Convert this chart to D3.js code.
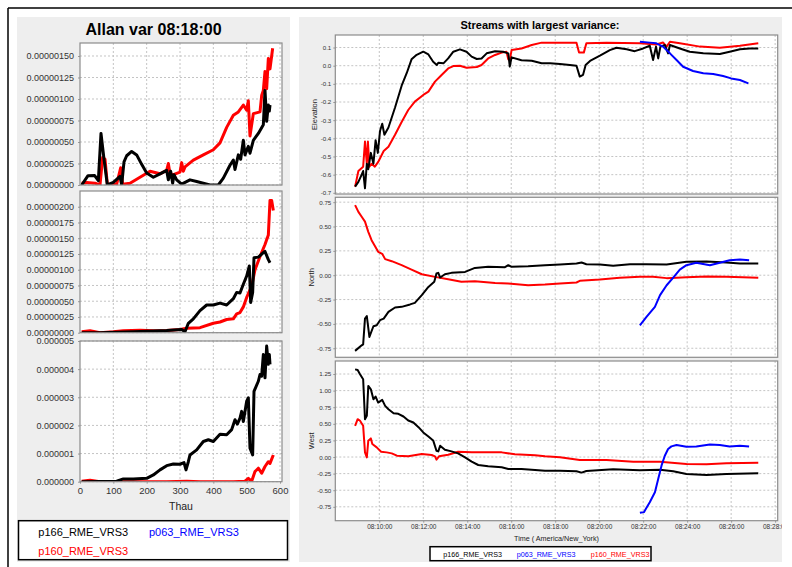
<!DOCTYPE html>
<html>
<head>
<meta charset="utf-8">
<script src="https://cdn.jsdelivr.net/npm/d3@7"></script>
<style>
  body { margin: 0; background: #fff; }
  text { font-family: "Liberation Sans", Arial, sans-serif; }
</style>
</head>
<body>
<svg id="chart" width="792" height="567"></svg>
<script>
// ---- data ----
var seriesNames = ["p166_RME_VRS3", "p063_RME_VRS3", "p160_RME_VRS3"];
var seriesColors = ["#000000", "#0000ff", "#ff0000"];

// Allan variance, values in units of 1e-6, x = Thau
var allanElevBlack = [[5,0],[24,0.108],[44,0.11],[55,0.05],[63,0.60],[72,0.30],[82,0],[100,0.03],[120,0.10],[125,0],[132,0.27],[140,0.34],[155,0.39],[170,0.35],[185,0.24],[200,0.14],[220,0.09],[240,0.13],[260,0.17],[265,0.06],[272,0.16],[278,0.02],[282,0.12],[290,0.06],[305,0.01],[330,0.06],[350,0.04],[370,0.02],[390,0],[415,0],[430,0.08],[450,0.23],[460,0.29],[465,0.18],[475,0.35],[482,0.30],[490,0.52],[495,0.35],[505,0.45],[510,0.37],[520,0.52],[535,0.60],[550,0.70],[555,1.10],[560,0.74],[565,0.93],[568,0.86],[570,0.93]];
var allanElevRed = [[5,0.02],[20,0.03],[45,0.02],[60,0],[68,0.32],[75,0.30],[82,0.01],[110,0.01],[122,0.20],[128,0.01],[150,0.02],[180,0.09],[210,0.16],[240,0.13],[260,0.17],[265,0.25],[270,0.13],[280,0.12],[300,0.15],[305,0.26],[310,0.16],[315,0.21],[340,0.29],[370,0.35],[400,0.41],[420,0.49],[440,0.67],[460,0.81],[475,0.85],[490,0.93],[500,0.87],[505,0.98],[510,0.57],[520,0.83],[540,0.85],[545,1.04],[550,1.10],[555,1.32],[560,1.12],[565,1.47],[570,1.35],[578,1.59]];
var allanNorthBlack = [[5,0],[60,0],[160,0.015],[260,0.035],[305,0.05],[315,0.015],[325,0.15],[340,0.22],[360,0.35],[380,0.44],[400,0.44],[420,0.47],[440,0.44],[460,0.54],[470,0.64],[480,0.63],[490,0.77],[500,0.90],[508,1.06],[512,0.48],[518,0.64],[522,1.19],[535,1.20],[550,1.27],[555,1.29],[565,1.16],[570,1.11]];
var allanNorthRed = [[5,0.015],[30,0.03],[60,0],[100,0.015],[130,0.03],[180,0.04],[220,0.03],[260,0.035],[300,0.05],[320,0.07],[360,0.08],[400,0.15],[420,0.17],[440,0.21],[460,0.22],[470,0.30],[480,0.32],[490,0.41],[500,0.56],[515,0.74],[525,1.0],[540,1.21],[555,1.40],[565,1.55],[570,2.10],[575,2.10],[580,1.94]];
var allanWestBlack = [[5,0],[110,0.02],[130,0.1],[160,0.1],[200,0.12],[220,0.24],[240,0.42],[260,0.57],[280,0.63],[300,0.62],[312,0.68],[318,0.42],[325,0.71],[330,0.95],[350,1.13],[370,1.43],[385,1.49],[400,1.43],[420,1.69],[440,1.67],[455,1.85],[465,2.20],[472,2.05],[480,2.26],[485,2.5],[490,2.14],[500,2.86],[505,2.98],[510,1.19],[518,0.95],[522,3.21],[535,3.57],[540,3.81],[545,3.75],[550,4.52],[555,3.69],[560,4.82],[565,4.17],[568,4.52],[570,4.17]];
var allanWestRed = [[5,0.02],[30,0.05],[60,0],[260,0],[320,0.02],[360,0],[460,0],[495,0.02],[505,0.12],[515,0.02],[525,0.36],[535,0.48],[545,0.30],[555,0.54],[565,0.71],[570,0.65],[580,0.95]];

var allanTicks1 = [0, 0.25, 0.5, 0.75, 1.0, 1.25, 1.5];
var allanTicks2 = [0, 0.25, 0.5, 0.75, 1.0, 1.25, 1.5, 1.75, 2.0];
var allanTicks3 = [0, 1, 2, 3, 4, 5];
var thauTicks = [0, 100, 200, 300, 400, 500, 600];

// streams
var elevBlack = [["08:08:54",-0.666],["08:09:03",-0.64],["08:09:12",-0.60],["08:09:16",-0.58],["08:09:21",-0.675],["08:09:26",-0.54],["08:09:30",-0.57],["08:09:37",-0.48],["08:09:44",-0.54],["08:09:50",-0.41],["08:09:56",-0.48],["08:10:02",-0.36],["08:10:08",-0.32],["08:10:14",-0.38],["08:10:25",-0.34],["08:10:43",-0.23],["08:11:01",-0.11],["08:11:15",-0.04],["08:11:28",0.035],["08:11:42",0.06],["08:12:00",0.077],["08:12:14",0.062],["08:12:27",0.022],["08:12:37",0.004],["08:12:41",0.016],["08:12:55",0.013],["08:13:08",0.04],["08:13:22",0.077],["08:13:40",0.09],["08:13:58",0.077],["08:14:12",0.05],["08:14:26",0.037],["08:14:39",0.04],["08:14:53",0.068],["08:15:16",0.08],["08:15:38",0.077],["08:15:52",0.068],["08:15:56",-0.005],["08:16:01",0.046],["08:16:28",0.03],["08:16:56",0.027],["08:17:23",0.013],["08:17:46",0.013],["08:18:13",0.009],["08:18:40",0.004],["08:18:58",0.0],["08:19:07",-0.06],["08:19:16",-0.05],["08:19:23",0.004],["08:19:35",0.026],["08:20:02",0.055],["08:20:29",0.086],["08:20:47",0.099],["08:21:15",0.09],["08:21:37",0.08],["08:22:00",0.095],["08:22:18",0.11],["08:22:27",0.031],["08:22:35",0.105],["08:22:41",0.04],["08:22:47",0.105],["08:22:59",0.114],["08:23:08",0.068],["08:23:13",0.114],["08:23:40",0.095],["08:24:07",0.077],["08:24:44",0.068],["08:25:29",0.064],["08:25:56",0.077],["08:26:24",0.09],["08:26:51",0.095],["08:27:14",0.094]];
var elevRed = [["08:08:54",-0.666],["08:09:03",-0.58],["08:09:16",-0.556],["08:09:21",-0.418],["08:09:26",-0.54],["08:09:29",-0.418],["08:09:33",-0.556],["08:09:39",-0.54],["08:09:48",-0.556],["08:09:57",-0.53],["08:10:12",-0.47],["08:10:25",-0.446],["08:10:43",-0.38],["08:11:01",-0.31],["08:11:19",-0.244],["08:11:37",-0.198],["08:12:00",-0.161],["08:12:14",-0.143],["08:12:32",-0.088],["08:12:50",-0.051],["08:13:08",-0.015],["08:13:22",-0.002],["08:13:40",0.0],["08:13:58",-0.011],["08:14:26",-0.007],["08:14:39",0.004],["08:14:57",0.04],["08:15:16",0.059],["08:15:34",0.072],["08:15:47",0.077],["08:15:52",0.035],["08:15:56",0.031],["08:16:01",0.086],["08:16:28",0.095],["08:16:56",0.114],["08:17:23",0.127],["08:18:04",0.127],["08:18:58",0.127],["08:19:05",0.072],["08:19:18",0.072],["08:19:25",0.123],["08:20:20",0.127],["08:21:51",0.123],["08:22:36",0.117],["08:22:54",0.128],["08:23:04",0.105],["08:23:13",0.132],["08:23:40",0.123],["08:24:35",0.105],["08:25:29",0.099],["08:26:24",0.11],["08:27:14",0.123]];
var elevBlue = [["08:21:51",0.132],["08:22:18",0.127],["08:22:36",0.123],["08:22:54",0.105],["08:23:13",0.068],["08:23:31",0.031],["08:23:49",-0.006],["08:24:16",-0.029],["08:24:44",-0.042],["08:25:11",-0.046],["08:25:38",-0.057],["08:26:00",-0.07],["08:26:24",-0.079],["08:26:47",-0.097]];

var northBlack = [["08:08:54",-0.777],["08:09:12",-0.72],["08:09:16",-0.71],["08:09:21",-0.445],["08:09:26",-0.42],["08:09:33",-0.634],["08:09:44",-0.524],["08:09:53",-0.514],["08:10:02",-0.462],["08:10:12",-0.445],["08:10:25",-0.377],["08:10:43",-0.332],["08:11:01",-0.325],["08:11:24",-0.30],["08:11:37",-0.284],["08:11:56",-0.205],["08:12:14",-0.12],["08:12:30",-0.068],["08:12:36",0.017],["08:12:41",0.024],["08:12:46",-0.024],["08:12:59",0.01],["08:13:17",0.024],["08:13:54",0.034],["08:14:21",0.075],["08:14:57",0.086],["08:15:43",0.082],["08:15:52",0.103],["08:16:01",0.086],["08:16:46",0.092],["08:17:32",0.103],["08:18:13",0.11],["08:18:58",0.12],["08:19:12",0.13],["08:19:25",0.113],["08:20:02",0.11],["08:20:38",0.096],["08:21:24",0.113],["08:22:09",0.113],["08:23:04",0.11],["08:23:58",0.137],["08:24:53",0.14],["08:25:47",0.13],["08:26:24",0.12],["08:27:14",0.12]];
var northRed = [["08:08:54",0.72],["08:09:03",0.65],["08:09:12",0.6],["08:09:21",0.55],["08:09:30",0.445],["08:09:39",0.36],["08:09:48",0.30],["08:09:57",0.24],["08:10:08",0.22],["08:10:16",0.165],["08:10:34",0.144],["08:11:01",0.103],["08:11:28",0.058],["08:11:56",0.01],["08:12:32",-0.017],["08:13:08",-0.041],["08:13:44",-0.068],["08:14:21",-0.062],["08:15:16",-0.079],["08:15:52",-0.086],["08:16:46",-0.103],["08:17:32",-0.096],["08:18:13",-0.086],["08:18:58",-0.075],["08:19:07",-0.058],["08:20:02",-0.045],["08:20:56",-0.027],["08:21:51",-0.017],["08:22:27",-0.017],["08:23:04",-0.03],["08:23:58",-0.02],["08:24:53",-0.014],["08:25:47",-0.017],["08:27:14",-0.027]];
var northBlue = [["08:21:51",-0.514],["08:22:09",-0.428],["08:22:32",-0.325],["08:22:46",-0.205],["08:23:04",-0.103],["08:23:22",-0.024],["08:23:40",0.058],["08:23:58",0.103],["08:24:25",0.127],["08:25:02",0.103],["08:25:29",0.127],["08:25:56",0.154],["08:26:24",0.161],["08:26:49",0.154]];

var westBlack = [["08:08:54",1.32],["08:09:01",1.31],["08:09:07",1.25],["08:09:16",1.17],["08:09:21",0.57],["08:09:26",0.62],["08:09:30",1.07],["08:09:37",1.02],["08:09:44",0.87],["08:09:50",0.91],["08:09:57",0.82],["08:10:05",0.85],["08:10:08",0.86],["08:10:16",0.77],["08:10:25",0.72],["08:10:39",0.66],["08:10:52",0.65],["08:11:06",0.61],["08:11:19",0.55],["08:11:33",0.52],["08:11:47",0.45],["08:12:00",0.37],["08:12:14",0.31],["08:12:27",0.25],["08:12:36",0.095],["08:12:41",0.085],["08:12:46",0.17],["08:12:59",0.11],["08:13:17",0.085],["08:13:35",0.055],["08:13:54",-0.005],["08:14:12",-0.07],["08:14:30",-0.12],["08:14:57",-0.14],["08:15:34",-0.155],["08:15:52",-0.18],["08:16:28",-0.18],["08:17:05",-0.195],["08:17:32",-0.205],["08:18:13",-0.205],["08:18:58",-0.215],["08:19:12",-0.235],["08:19:25",-0.21],["08:20:38",-0.185],["08:21:51",-0.2],["08:22:46",-0.19],["08:23:22",-0.215],["08:23:58",-0.255],["08:24:53",-0.27],["08:25:47",-0.255],["08:27:14",-0.245]];
var westRed = [["08:08:54",0.47],["08:09:01",0.57],["08:09:07",0.55],["08:09:16",0.47],["08:09:21",0.07],["08:09:26",-0.005],["08:09:30",0.245],["08:09:37",0.28],["08:09:41",0.195],["08:09:53",0.145],["08:10:05",0.08],["08:10:20",0.07],["08:10:34",0.055],["08:10:48",0.02],["08:11:19",0.01],["08:11:56",0.045],["08:12:23",0.03],["08:12:32",0.01],["08:12:36",-0.04],["08:12:43",0.01],["08:13:08",0.035],["08:13:35",0.08],["08:14:12",0.07],["08:14:57",0.07],["08:15:34",0.07],["08:16:10",0.04],["08:17:05",0.025],["08:17:32",0.01],["08:18:13",-0.005],["08:19:07",-0.045],["08:20:20",-0.045],["08:21:33",-0.07],["08:22:46",-0.07],["08:23:58",-0.105],["08:24:53",-0.11],["08:25:47",-0.095],["08:27:14",-0.085]];
var westBlue = [["08:21:51",-0.84],["08:22:02",-0.83],["08:22:18",-0.68],["08:22:32",-0.53],["08:22:41",-0.33],["08:22:50",-0.13],["08:22:59",0.02],["08:23:08",0.12],["08:23:17",0.16],["08:23:31",0.18],["08:23:58",0.155],["08:24:25",0.16],["08:25:02",0.19],["08:25:29",0.18],["08:25:56",0.16],["08:26:24",0.17],["08:26:49",0.16]];

var elevTicks = [-0.7, -0.6, -0.5, -0.4, -0.3, -0.2, -0.1, 0.0, 0.1];
var northTicks = [-0.75, -0.5, -0.25, 0, 0.25, 0.5, 0.75];
var westTicks = [-0.75, -0.5, -0.25, 0, 0.25, 0.5, 0.75, 1.0, 1.25];
var timeTicks = ["08:10:00","08:12:00","08:14:00","08:16:00","08:18:00","08:20:00","08:22:00","08:24:00","08:26:00","08:28:00"];

// ---- drawing ----
var parseTime = d3.timeParse("%H:%M:%S");
var svg = d3.select("#chart");
var defs = svg.append("defs");
var clipId = 0;

function hyphen(f) {
    return function (d) { return f(d).replace("\u2212", "-"); };
}

// outer frame
svg.append("line").attr("x1", 8).attr("y1", 8).attr("x2", 792).attr("y2", 8)
    .attr("stroke", "#000").attr("stroke-width", 1.5);
svg.append("line").attr("x1", 8).attr("y1", 8).attr("x2", 8).attr("y2", 567)
    .attr("stroke", "#000").attr("stroke-width", 1.5);

// panels
svg.append("rect").attr("x", 17).attr("y", 17).attr("width", 273).attr("height", 545).attr("fill", "#eeeeee");
svg.append("rect").attr("x", 299).attr("y", 17).attr("width", 483).attr("height", 545).attr("fill", "#eeeeee");

defs.append("clipPath").attr("id", "rightPanel")
    .append("rect").attr("x", 299).attr("y", 17).attr("width", 483).attr("height", 545);

function drawPlot(o) {
    var g = (o.parent || svg).append("g");
    var x = o.x;
    var x0 = x.range()[0], x1 = x.range()[1];
    var y = d3.scaleLinear().domain(o.yDomain).range([o.bottom, o.top]);

    g.append("rect").attr("x", x0).attr("y", o.top).attr("width", x1 - x0)
        .attr("height", o.bottom - o.top).attr("fill", "#fff");

    // grid
    g.selectAll(".hgrid").data(o.yTicks).enter().append("line")
        .attr("x1", x0).attr("x2", x1)
        .attr("y1", function (d) { return y(d); }).attr("y2", function (d) { return y(d); })
        .attr("stroke", "#c4c4c4").attr("stroke-width", 1).attr("stroke-dasharray", "2,2");
    g.selectAll(".vgrid").data(o.xGrid).enter().append("line")
        .attr("y1", o.top).attr("y2", o.bottom)
        .attr("x1", function (d) { return x(d); }).attr("x2", function (d) { return x(d); })
        .attr("stroke", "#c4c4c4").attr("stroke-width", 1).attr("stroke-dasharray", "2,2");

    // y axis
    var yAxis = d3.axisLeft(y).tickValues(o.yTicks).tickFormat(o.yFmt)
        .tickSize(2).tickPadding(o.pad);
    var ya = g.append("g").attr("transform", "translate(" + x0 + ",0)").call(yAxis);
    ya.select(".domain").remove();
    ya.selectAll("line").attr("stroke", "#999");
    ya.selectAll("text").style("font-size", o.fontSize + "px").attr("fill", "#333");

    // x axis (only on bottom plots)
    if (o.xTicks) {
        var xAxis = d3.axisBottom(x).tickValues(o.xTicks).tickFormat(o.xFmt)
            .tickSize(2).tickPadding(o.pad);
        var xa = g.append("g").attr("transform", "translate(0," + o.bottom + ")").call(xAxis);
        xa.select(".domain").remove();
        xa.selectAll("line").attr("stroke", "#999");
        xa.selectAll("text").style("font-size", o.xFontSize + "px").attr("fill", "#333");
    }

    // lines
    clipId++;
    defs.append("clipPath").attr("id", "plot" + clipId)
        .append("rect").attr("x", x0).attr("y", o.top).attr("width", x1 - x0).attr("height", o.bottom - o.top);
    var line = d3.line()
        .x(function (d) { return x(o.xVal(d[0])); })
        .y(function (d) { return y(o.yVal(d[1])); });
    var lg = g.append("g").attr("clip-path", "url(#plot" + clipId + ")");
    o.series.forEach(function (s) {
        lg.append("path").datum(s.data)
            .attr("d", line)
            .attr("fill", "none")
            .attr("stroke", s.color)
            .attr("stroke-width", o.lineWidth)
            .attr("stroke-linejoin", "round");
    });

    g.append("rect").attr("x", x0).attr("y", o.top).attr("width", x1 - x0)
        .attr("height", o.bottom - o.top).attr("fill", "none")
        .attr("stroke", "#8c8c8c").attr("stroke-width", 1.2);
    return y;
}

// ---- left: Allan variance ----
svg.append("text").attr("x", 153.5).attr("y", 35).attr("text-anchor", "middle")
    .style("font-size", "16px").style("font-weight", "bold").text("Allan var 08:18:00");

var thauX = d3.scaleLinear().domain([0, 606]).range([80, 282]);
var micro = function (v) { return v; };
var fmt8 = function (d) { return d3.format(".8f")(d * 1e-6); };
var fmt6 = function (d) { return d3.format(".6f")(d * 1e-6); };
var gridThau = [100, 200, 300, 400, 500, 600];

drawPlot({
    x: thauX, top: 43, bottom: 185, yDomain: [0, 1.651], yTicks: allanTicks1, yFmt: fmt8,
    fontSize: 9, pad: 4, xGrid: gridThau, xVal: micro, yVal: micro, lineWidth: 3,
    series: [{ data: allanElevRed, color: seriesColors[2] }, { data: allanElevBlack, color: seriesColors[0] }]
});
drawPlot({
    x: thauX, top: 191, bottom: 332.7, yDomain: [0, 2.25], yTicks: allanTicks2, yFmt: fmt8,
    fontSize: 9, pad: 4, xGrid: gridThau, xVal: micro, yVal: micro, lineWidth: 3,
    series: [{ data: allanNorthRed, color: seriesColors[2] }, { data: allanNorthBlack, color: seriesColors[0] }]
});
drawPlot({
    x: thauX, top: 341, bottom: 481.7, yDomain: [0, 5], yTicks: allanTicks3, yFmt: fmt6,
    fontSize: 9, pad: 4, xGrid: gridThau, xVal: micro, yVal: micro, lineWidth: 3,
    xTicks: thauTicks, xFmt: d3.format("d"), xFontSize: 9.5,
    series: [{ data: allanWestRed, color: seriesColors[2] }, { data: allanWestBlack, color: seriesColors[0] }]
});
svg.append("text").attr("x", 181).attr("y", 510).attr("text-anchor", "middle")
    .style("font-size", "10.5px").attr("fill", "#222").text("Thau");

// left legend
svg.append("rect").attr("x", 18.5).attr("y", 520.7).attr("width", 269).attr("height", 39)
    .attr("fill", "#fff").attr("stroke", "#000").attr("stroke-width", 1.5);
var leftLegendPos = [[38.3, 535.5], [149, 535.5], [38.3, 555]];
svg.selectAll(".lleg").data(seriesNames).enter().append("text")
    .attr("x", function (d, i) { return leftLegendPos[i][0]; })
    .attr("y", function (d, i) { return leftLegendPos[i][1]; })
    .attr("fill", function (d, i) { return seriesColors[i]; })
    .style("font-size", "11px").text(function (d) { return d; });

// ---- right: streams ----
var rp = svg.append("g").attr("clip-path", "url(#rightPanel)");
rp.append("text").attr("x", 540).attr("y", 29).attr("text-anchor", "middle")
    .style("font-size", "11px").style("font-weight", "bold").text("Streams with largest variance:");

var timeX = d3.scaleTime().domain([parseTime("08:08:00"), parseTime("08:28:07")]).range([335.3, 777.7]);
var tickDates = timeTicks.map(parseTime);
var fmt1 = hyphen(d3.format(".1f"));
var fmt2 = hyphen(d3.format(".2f"));

drawPlot({
    parent: rp, x: timeX, top: 35, bottom: 194, yDomain: [-0.7065, 0.169], yTicks: elevTicks, yFmt: fmt1,
    fontSize: 6.2, pad: 2, xGrid: tickDates, xVal: parseTime, yVal: micro, lineWidth: 2,
    series: [{ data: elevRed, color: seriesColors[2] }, { data: elevBlack, color: seriesColors[0] }, { data: elevBlue, color: seriesColors[1] }]
});
drawPlot({
    parent: rp, x: timeX, top: 197.3, bottom: 357.3, yDomain: [-0.843, 0.80], yTicks: northTicks, yFmt: fmt2,
    fontSize: 6.2, pad: 2, xGrid: tickDates, xVal: parseTime, yVal: micro, lineWidth: 2,
    series: [{ data: northRed, color: seriesColors[2] }, { data: northBlack, color: seriesColors[0] }, { data: northBlue, color: seriesColors[1] }]
});
drawPlot({
    parent: rp, x: timeX, top: 361, bottom: 520.7, yDomain: [-0.959, 1.446], yTicks: westTicks, yFmt: fmt2,
    fontSize: 6.2, pad: 2, xGrid: tickDates, xVal: parseTime, yVal: micro, lineWidth: 2,
    xTicks: tickDates, xFmt: d3.timeFormat("%H:%M:%S"), xFontSize: 6.5,
    series: [{ data: westRed, color: seriesColors[2] }, { data: westBlack, color: seriesColors[0] }, { data: westBlue, color: seriesColors[1] }]
});

// axis labels
var yLabels = [["Elevation", 317, 114.5], ["North", 313.5, 277.3], ["West", 313.5, 440.8]];
rp.selectAll(".ylab").data(yLabels).enter().append("text")
    .attr("transform", function (d) { return "translate(" + d[1] + "," + d[2] + ") rotate(-90)"; })
    .attr("text-anchor", "middle").style("font-size", "7.5px").attr("fill", "#222")
    .text(function (d) { return d[0]; });
rp.append("text").attr("x", 556.5).attr("y", 540.5).attr("text-anchor", "middle")
    .style("font-size", "7.2px").attr("fill", "#222").text("Time ( America/New_York)");

// right legend
rp.append("rect").attr("x", 430).attr("y", 546.7).attr("width", 221).attr("height", 14)
    .attr("fill", "#fff").attr("stroke", "#000").attr("stroke-width", 1.5);
var rightLegendX = [443.3, 516.7, 590.7];
rp.selectAll(".rleg").data(seriesNames).enter().append("text")
    .attr("x", function (d, i) { return rightLegendX[i]; })
    .attr("y", 556.5)
    .attr("fill", function (d, i) { return seriesColors[i]; })
    .style("font-size", "7.2px").text(function (d) { return d; });
</script>
</body>
</html>
